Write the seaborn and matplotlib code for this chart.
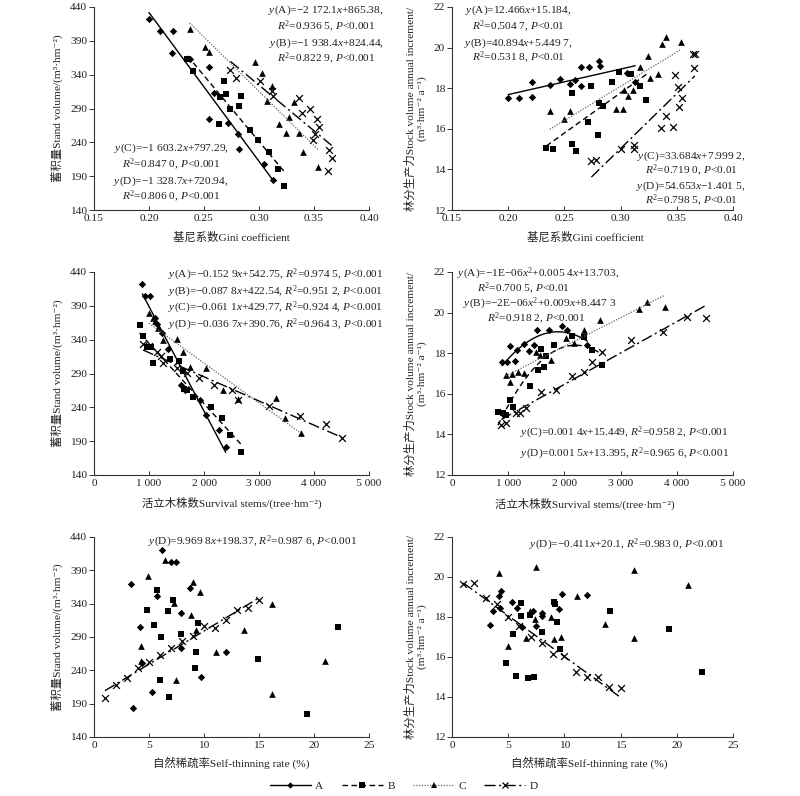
import numpy as np
import matplotlib
matplotlib.use('Agg')
import matplotlib.pyplot as plt
import seaborn as sns
from matplotlib.lines import Line2D
from matplotlib.ticker import FuncFormatter

# 1. DATOS (por panel y por tipo A-D)

# (a) Gini vs volumen
gv_A_x = [0.200, 0.210, 0.222, 0.221, 0.237, 0.255, 0.259, 0.255, 0.272, 0.281, 0.282, 0.305, 0.313]
gv_A_y = [422, 405, 405, 372, 363, 352, 313, 274, 268, 252, 230, 208, 184]
gv_B_x = [0.235, 0.240, 0.268, 0.270, 0.265, 0.284, 0.282, 0.274, 0.264, 0.292, 0.299, 0.309, 0.317, 0.323]
gv_B_y = [363, 346, 330, 312, 307, 309, 294, 290, 267, 258, 243, 225, 200, 175]
gv_C_x = [0.237, 0.251, 0.255, 0.296, 0.303, 0.312, 0.307, 0.332, 0.327, 0.318, 0.325, 0.336, 0.340, 0.354]
gv_C_y = [407, 381, 373, 358, 342, 323, 301, 299, 278, 267, 254, 254, 225, 203]
gv_D_x = [0.274, 0.279, 0.301, 0.312, 0.313, 0.336, 0.339, 0.346, 0.353, 0.355, 0.351, 0.349, 0.364, 0.366, 0.363]
gv_D_y = [347, 335, 331, 316, 308, 306, 284, 290, 274, 262, 253, 243, 229, 217, 197]

# (b) Gini vs productividad
gi_A_x = [0.200, 0.210, 0.221, 0.221, 0.237, 0.246, 0.255, 0.259, 0.265, 0.265, 0.272, 0.281, 0.282, 0.306, 0.313]
gi_A_y = [17.5, 17.5, 17.55, 18.3, 18.15, 18.45, 18.2, 18.4, 19.05, 18.1, 19.05, 19.35, 19.1, 18.75, 18.3]
gi_B_x = [0.234, 0.240, 0.257, 0.260, 0.271, 0.280, 0.274, 0.257, 0.281, 0.284, 0.292, 0.299, 0.309, 0.317, 0.323]
gi_B_y = [15.05, 15.0, 15.25, 14.92, 16.35, 15.69, 18.1, 17.77, 17.25, 17.11, 18.3, 18.8, 18.72, 18.1, 17.41]
gi_C_x = [0.237, 0.250, 0.255, 0.296, 0.302, 0.303, 0.307, 0.311, 0.317, 0.324, 0.326, 0.333, 0.337, 0.340, 0.354]
gi_C_y = [16.9, 16.5, 16.9, 17.0, 17.0, 17.9, 17.6, 17.9, 19.05, 19.6, 18.5, 18.7, 20.2, 20.5, 20.3]
gi_D_x = [0.274, 0.278, 0.300, 0.312, 0.312, 0.336, 0.340, 0.347, 0.348, 0.351, 0.352, 0.355, 0.364, 0.366, 0.365]
gi_D_y = [14.4, 14.45, 15.0, 15.2, 15.0, 16.05, 16.65, 16.1, 18.65, 18.05, 17.05, 17.5, 19.7, 19.7, 19.0]

# (c) arboles vivos vs volumen
sv_A_x = [880, 920, 1010, 1100, 1150, 1240, 1345, 1576, 1648, 1933, 2042, 2267, 2394]
sv_A_y = [422, 405, 405, 372, 363, 350, 326, 273, 266, 251, 229, 207, 182]
sv_B_x = [830, 885, 955, 1030, 1070, 1380, 1540, 1620, 1640, 1690, 1800, 2130, 2330, 2480, 2680]
sv_B_y = [361, 345, 329, 329, 306, 311, 309, 294, 267, 266, 256, 241, 224, 199, 174]
sv_C_x = [1000, 1070, 1110, 1160, 1260, 1500, 1610, 1750, 2030, 2345, 2618, 3315, 3479, 3758]
sv_C_y = [380, 372, 367, 357, 340, 341, 322, 299, 298, 266, 253, 254, 224, 202]
sv_D_x = [890, 1000, 1150, 1220, 1260, 1500, 1690, 1900, 2190, 2500, 2620, 3190, 3750, 4210, 4500]
sv_D_y = [334, 330, 322, 316, 305, 298, 291, 283, 273, 266, 251, 242, 227, 216, 195]

# (d) arboles vivos vs productividad
si_A_x = [896, 979, 1038, 1127, 1157, 1275, 1364, 1459, 1512, 1726, 1957, 2046, 2408]
si_A_y = [17.55, 17.55, 18.34, 17.63, 18.18, 18.46, 18.13, 18.41, 19.12, 19.12, 19.36, 19.13, 18.38]
si_B_x = [818, 907, 967, 1026, 1085, 1394, 1530, 1590, 1631, 1679, 1809, 2135, 2343, 2497, 2669]
si_B_y = [15.08, 15.03, 14.97, 15.7, 15.33, 16.4, 17.19, 18.2, 17.3, 17.85, 18.38, 18.84, 18.79, 18.18, 17.44]
si_C_x = [955, 1026, 1074, 1174, 1275, 1500, 1560, 1767, 2034, 2165, 2343, 2628, 3321, 3470, 3784]
si_C_y = [16.94, 16.56, 16.98, 17.06, 17.03, 18.08, 17.9, 17.68, 18.74, 18.51, 19.12, 19.66, 20.2, 20.5, 20.3]
si_D_x = [878, 967, 1133, 1216, 1311, 1590, 1845, 2135, 2343, 2497, 2669, 3191, 3754, 4181, 4514]
si_D_y = [14.45, 14.55, 15.05, 15.05, 15.28, 16.1, 16.18, 16.9, 17.09, 17.58, 18.08, 18.67, 19.03, 19.78, 19.73]

# (e) tasa de autoaclareo vs volumen
tv_A_x = [3.33, 3.55, 4.15, 4.39, 5.3, 5.73, 6.15, 6.97, 7.48, 7.94, 7.94, 8.7, 9.7, 11.97]
tv_A_y = [369, 184, 305, 251, 207, 351, 420, 402, 402, 326, 274, 363, 230, 268]
tv_B_x = [4.82, 5.42, 5.73, 6.12, 5.97, 6.82, 6.73, 7.18, 7.94, 9.3, 9.15, 9.48, 14.9, 19.4, 22.2]
tv_B_y = [330, 308, 361, 290, 225, 200, 329, 345, 294, 267, 243, 311, 257, 175, 305]
tv_C_x = [4.91, 6.42, 7.24, 7.42, 4.24, 4.3, 8.85, 9.0, 9.6, 9.24, 11.06, 13.64, 16.15, 16.15, 21.03]
tv_C_y = [381, 406, 341, 225, 277, 254, 323, 372, 357, 300, 267, 300, 340, 204, 254]
tv_D_x = [1, 2, 3, 4, 5, 6, 7, 8, 9, 10, 11, 12, 13, 14, 15]
tv_D_y = [198, 218, 228, 243, 253, 263, 273, 284, 291, 306, 304, 316, 330, 333, 346]

# (f) tasa de autoaclareo vs productividad
ti_A_x = [3.35, 3.65, 4.18, 4.39, 4.24, 5.34, 5.78, 6.23, 7.5, 7.21, 8.04, 8.04, 9.52, 9.79, 12.0]
ti_A_y = [17.6, 18.32, 19.06, 19.32, 18.44, 18.74, 18.44, 17.52, 17.55, 18.3, 18.19, 18.05, 18.4, 19.16, 19.1]
ti_B_x = [4.83, 5.43, 5.72, 6.17, 6.17, 6.91, 6.76, 7.27, 8.0, 9.07, 9.13, 9.37, 9.58, 14.09, 19.3, 22.27]
ti_B_y = [15.68, 17.13, 15.06, 18.72, 18.05, 18.1, 14.93, 15.01, 17.27, 18.77, 18.66, 17.77, 16.38, 18.32, 17.4, 15.26]
ti_C_x = [4.18, 4.98, 6.55, 6.91, 7.35, 7.44, 8.84, 9.05, 9.73, 11.12, 13.64, 16.15, 16.15, 21.03]
ti_C_y = [20.19, 16.55, 16.93, 18.32, 17.9, 20.48, 18.02, 16.9, 17.02, 19.06, 17.64, 16.95, 20.33, 19.61]
ti_D_x = [1, 2, 3, 4, 5, 6, 7, 8, 9, 10, 11, 12, 13, 14, 15]
ti_D_y = [19.66, 19.69, 18.97, 18.64, 18.02, 17.55, 17.02, 16.68, 16.15, 16.06, 15.26, 14.98, 14.98, 14.5, 14.43]

grupos = ['A', 'B', 'C', 'D']

# 2. ESTILO
sns.set_style('ticks')
plt.rcParams['font.family'] = ['Liberation Serif', 'Noto Sans CJK SC', 'DejaVu Serif']
plt.rcParams['mathtext.fontset'] = 'custom'
plt.rcParams['mathtext.rm'] = 'Liberation Serif'
plt.rcParams['mathtext.it'] = 'Liberation Serif:italic'
plt.rcParams['axes.unicode_minus'] = False

FS = 8.2
TXT = '#231f20'
W, H = 800, 796

estilos = {
    'A': dict(marker='D', s=14, ls='-', lc='black', lw=1.0, ms=3.2),
    'B': dict(marker='s', s=21, ls=(0, (4, 2.5)), lc='black', lw=1.0, ms=4.2),
    'C': dict(marker='^', s=23, ls=(0, (1, 1.2)), lc='#666666', lw=0.9, ms=4.5),
    'D': dict(marker='x', s=24, ls=(0, (8, 2.5, 1.5, 2.5)), lc='black', lw=1.0, ms=5),
}

fig = plt.figure(figsize=(8, 7.96), dpi=100)


def ejes(left, top, right, bottom):
    # crea ejes con coordenadas en pixeles de la figura
    return fig.add_axes([left / W, 1 - bottom / H, (right - left) / W, (bottom - top) / H])


def texto(x, y, s, ha='center', rot=0):
    fig.text(x / W, 1 - y / H, s, ha=ha, va='center', fontsize=FS, color=TXT, rotation=rot)


def panel(ax, datos, ajustes):
    for g, (x, y) in zip(grupos, datos):
        st = estilos[g]
        if st['marker'] == 'x':
            sns.scatterplot(x=x, y=y, ax=ax, marker='x', s=st['s'], color='black', linewidth=0.9)
        else:
            sns.scatterplot(x=x, y=y, ax=ax, marker=st['marker'], s=st['s'], color='black',
                            edgecolor='black', linewidth=0)
        if g in ajustes:
            # linea de tendencia (polinomio de orden 1 o 2) sobre el rango de los datos
            sns.regplot(x=np.array(x, dtype=float), y=np.array(y, dtype=float), ax=ax,
                        order=ajustes[g], ci=None, scatter=False, truncate=True, color=st['lc'],
                        line_kws=dict(lw=st['lw'], linestyle=st['ls']))
    sns.despine(ax=ax)
    for sp in ['left', 'bottom']:
        ax.spines[sp].set_color('#333333')
        ax.spines[sp].set_linewidth(0.8)
    ax.tick_params(axis='x', direction='in', length=3, width=0.7, pad=3, labelsize=FS,
                   colors='#333333', labelcolor=TXT)
    ax.tick_params(axis='y', direction='out', length=3.5, width=0.7, pad=1.5, labelsize=FS,
                   colors='#333333', labelcolor=TXT)
    ax.set_xlabel('')
    ax.set_ylabel('')


miles = FuncFormatter(lambda v, p: f'{int(v):,}'.replace(',', ' '))

fila = [(7, 210), (272, 475), (537, 737)]
izq = (94, 369)
der = (452, 733)

ax_a = ejes(izq[0], fila[0][0], izq[1], fila[0][1])
ax_b = ejes(der[0], fila[0][0], der[1], fila[0][1])
ax_c = ejes(izq[0], fila[1][0], izq[1], fila[1][1])
ax_d = ejes(der[0], fila[1][0], der[1], fila[1][1])
ax_e = ejes(izq[0], fila[2][0], izq[1], fila[2][1])
ax_f = ejes(der[0], fila[2][0], der[1], fila[2][1])

# 3. PANELES
panel(ax_a, [(gv_A_x, gv_A_y), (gv_B_x, gv_B_y), (gv_C_x, gv_C_y), (gv_D_x, gv_D_y)],
      {'A': 1, 'B': 1, 'C': 1, 'D': 1})
panel(ax_b, [(gi_A_x, gi_A_y), (gi_B_x, gi_B_y), (gi_C_x, gi_C_y), (gi_D_x, gi_D_y)],
      {'A': 1, 'B': 1, 'C': 1, 'D': 1})
panel(ax_c, [(sv_A_x, sv_A_y), (sv_B_x, sv_B_y), (sv_C_x, sv_C_y), (sv_D_x, sv_D_y)],
      {'A': 1, 'B': 1, 'C': 1, 'D': 1})
panel(ax_d, [(si_A_x, si_A_y), (si_B_x, si_B_y), (si_C_x, si_C_y), (si_D_x, si_D_y)],
      {'A': 2, 'B': 2, 'C': 1, 'D': 1})
panel(ax_e, [(tv_A_x, tv_A_y), (tv_B_x, tv_B_y), (tv_C_x, tv_C_y), (tv_D_x, tv_D_y)],
      {'D': 1})
panel(ax_f, [(ti_A_x, ti_A_y), (ti_B_x, ti_B_y), (ti_C_x, ti_C_y), (ti_D_x, ti_D_y)],
      {'D': 1})

for ax in [ax_a, ax_c, ax_e]:
    ax.set_ylim(140, 440)
    ax.set_yticks(np.arange(140, 441, 50))
for ax in [ax_b, ax_d, ax_f]:
    ax.set_ylim(12, 22)
    ax.set_yticks(np.arange(12, 23, 2))
for ax in [ax_a, ax_b]:
    ax.set_xlim(0.15, 0.40)
    ax.set_xticks(np.arange(0.15, 0.401, 0.05))
    ax.xaxis.set_major_formatter(FuncFormatter(lambda v, p: f'{v:.2f}'))
for ax in [ax_c, ax_d]:
    ax.set_xlim(0, 5000)
    ax.set_xticks(np.arange(0, 5001, 1000))
    ax.xaxis.set_major_formatter(miles)
for ax in [ax_e, ax_f]:
    ax.set_xlim(0, 25)
    ax.set_xticks(np.arange(0, 26, 5))

# 4. ETIQUETAS DE EJES
lab_vol = '蓄积量Stand volume/(m³·hm⁻²)'
lab_inc = '林分生产力Stock volume annual increment/\n(m³·hm⁻² a⁻¹)'
for (top, bottom) in fila:
    texto(57, (top + bottom) / 2, lab_vol, rot=90)
    texto(416, (top + bottom) / 2, lab_inc, rot=90)
texto(231, 237, '基尼系数Gini coefficient')
texto(585, 237, '基尼系数Gini coefficient')
texto(232, 503, '活立木株数Survival stems/(tree·hm⁻²)')
texto(585, 504, '活立木株数Survival stems/(tree·hm⁻²)')
texto(231, 763, '自然稀疏率Self-thinning rate (%)')
texto(589, 763, '自然稀疏率Self-thinning rate (%)')

# 5. ECUACIONES
R2 = r'$R^{\mathrm{2}}$'
P = r'$P$'
texto(326, 10, r'$y$(A)=−2 172.1$x$+865.38,')
texto(326, 27, R2 + '=0.936 5, ' + P + '<0.001')
texto(326, 43, r'$y$(B)=−1 938.4$x$+824.44,')
texto(326, 59, R2 + '=0.822 9, ' + P + '<0.001')
texto(171, 148, r'$y$(C)=−1 603.2$x$+797.29,')
texto(171, 165, R2 + '=0.847 0, ' + P + '<0.001')
texto(171, 181, r'$y$(D)=−1 328.7$x$+720.94,')
texto(171, 197, R2 + '=0.806 0, ' + P + '<0.001')

texto(518, 10, r'$y$(A)=12.466$x$+15.184,')
texto(518, 27, R2 + '=0.504 7, ' + P + '<0.01')
texto(518, 43, r'$y$(B)=40.894$x$+5.449 7,')
texto(518, 58, R2 + '=0.531 8, ' + P + '<0.01')
texto(691, 156, r'$y$(C)=33.684$x$+7.999 2,')
texto(691, 171, R2 + '=0.719 0, ' + P + '<0.01')
texto(691, 186, r'$y$(D)=54.653$x$−1.401 5,')
texto(691, 201, R2 + '=0.798 5, ' + P + '<0.01')

texto(168, 275, r'$y$(A)=−0.152 9$x$+542.75, ' + R2 + '=0.974 5, ' + P + '<0.001', ha='left')
texto(168, 292, r'$y$(B)=−0.087 8$x$+422.54, ' + R2 + '=0.951 2, ' + P + '<0.001', ha='left')
texto(168, 308, r'$y$(C)=−0.061 1$x$+429.77, ' + R2 + '=0.924 4, ' + P + '<0.001', ha='left')
texto(168, 325, r'$y$(D)=−0.036 7$x$+390.76, ' + R2 + '=0.964 3, ' + P + '<0.001', ha='left')

texto(457, 274, r'$y$(A)=−1E−06$x^{\mathrm{2}}$+0.005 4$x$+13.703,', ha='left')
texto(477, 289, R2 + '=0.700 5, ' + P + '<0.01', ha='left')
texto(463, 304, r'$y$(B)=−2E−06$x^{\mathrm{2}}$+0.009$x$+8.447 3', ha='left')
texto(487, 319, R2 + '=0.918 2, ' + P + '<0.001', ha='left')
texto(520, 433, r'$y$(C)=0.001 4$x$+15.449, ' + R2 + '=0.958 2, ' + P + '<0.001', ha='left')
texto(520, 454, r'$y$(D)=0.001 5$x$+13.395, ' + R2 + '=0.965 6, ' + P + '<0.001', ha='left')

texto(148, 542, r'$y$(D)=9.969 8$x$+198.37, ' + R2 + '=0.987 6, ' + P + '<0.001', ha='left')
texto(529, 545, r'$y$(D)=−0.411$x$+20.1, ' + R2 + '=0.983 0, ' + P + '<0.001', ha='left')

# 6. LEYENDA
handles = []
for g in grupos:
    st = estilos[g]
    handles.append(Line2D([0], [0], color=st['lc'], lw=st['lw'], linestyle=st['ls'],
                          marker=st['marker'], markersize=st['ms'], markerfacecolor='black',
                          markeredgecolor='black', markeredgewidth=0.9 if g == 'D' else 0))
fig.legend(handles, grupos, loc='center', bbox_to_anchor=(404 / W, 1 - 786 / H), ncol=4,
           frameon=False, fontsize=FS, handlelength=3.6, handletextpad=0.4, columnspacing=1.6,
           numpoints=1, labelcolor=TXT)

fig.savefig('out.png', dpi=100)
